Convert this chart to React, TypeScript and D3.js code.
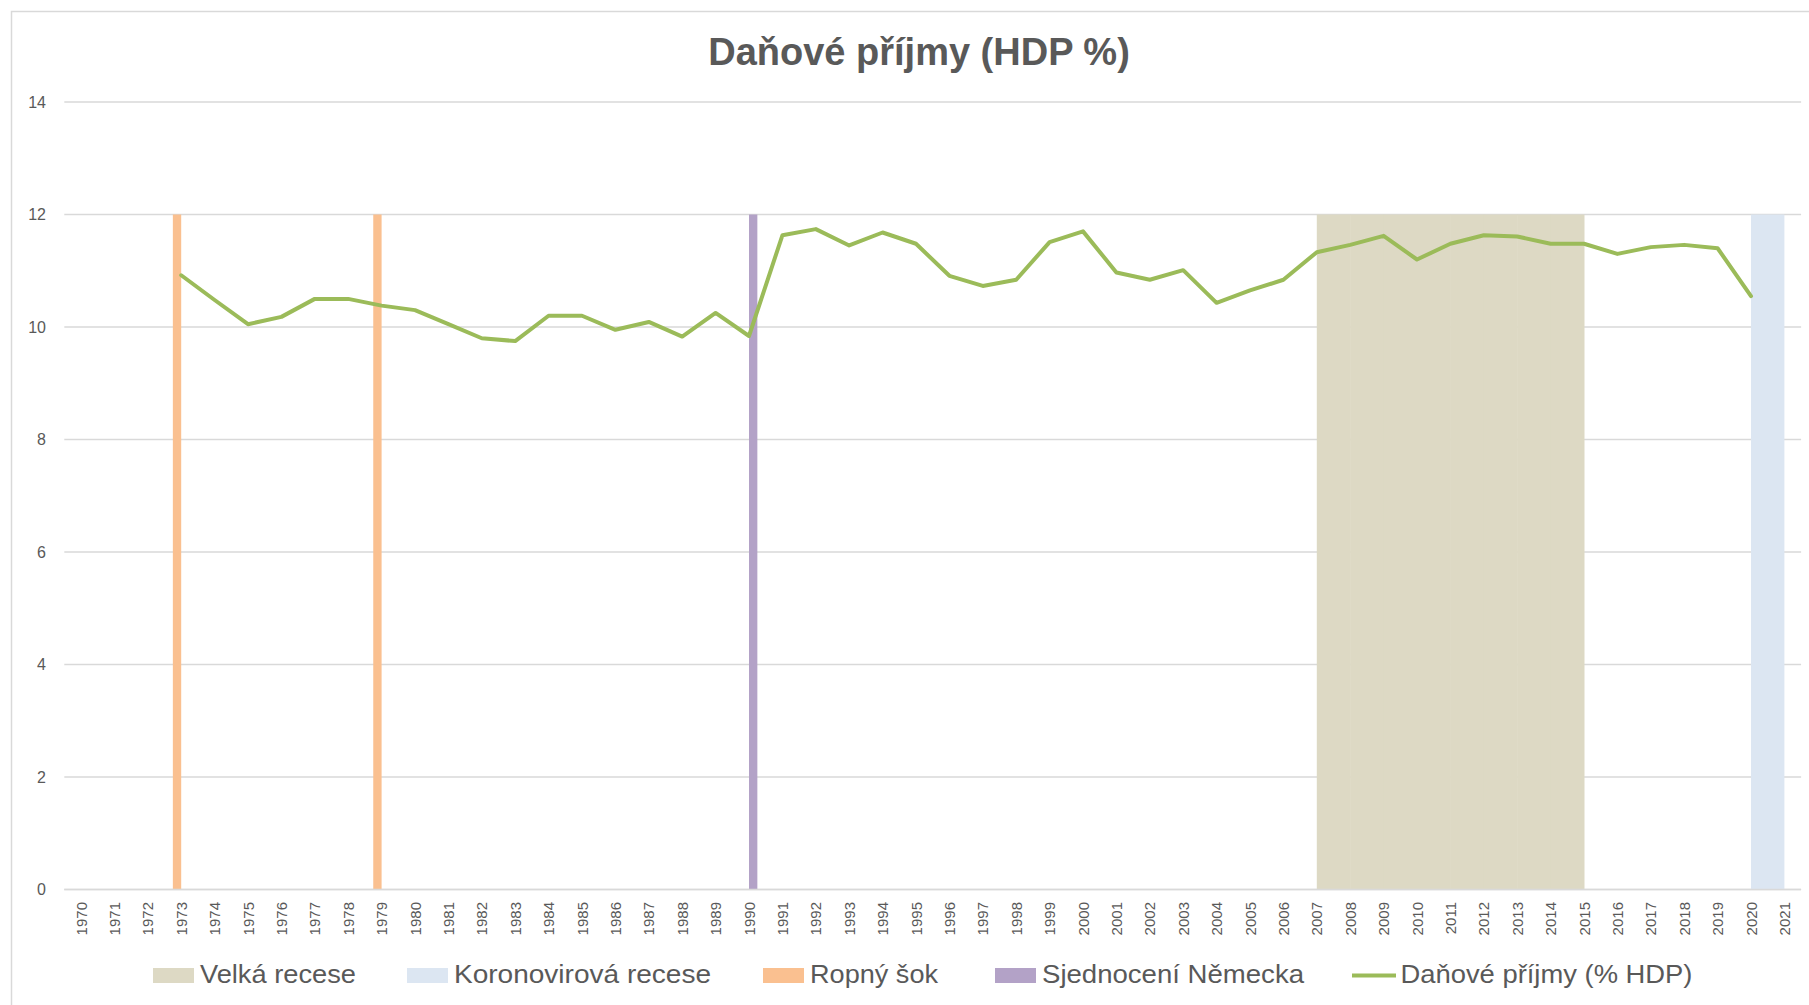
import React from "react";
import * as d3 from "d3";

const years: string[] = [
  "1970","1971","1972","1973","1974","1975","1976","1977","1978","1979",
  "1980","1981","1982","1983","1984","1985","1986","1987","1988","1989",
  "1990","1991","1992","1993","1994","1995","1996","1997","1998","1999",
  "2000","2001","2002","2003","2004","2005","2006","2007","2008","2009",
  "2010","2011","2012","2013","2014","2015","2016","2017","2018","2019",
  "2020","2021",
];

const taxRevenue: (number | null)[] = [
  null, null, null, 10.92, 10.48, 10.05, 10.18, 10.5, 10.5, 10.38,
  10.3, 10.05, 9.8, 9.75, 10.2, 10.2, 9.95, 10.09, 9.83, 10.25,
  9.84, 11.63, 11.74, 11.45, 11.68, 11.48, 10.91, 10.73, 10.84, 11.51,
  11.7, 10.97, 10.84, 11.01, 10.43, 10.65, 10.84, 11.33, 11.46, 11.62,
  11.2, 11.48, 11.63, 11.61, 11.48, 11.48, 11.3, 11.42, 11.46, 11.4,
  10.55, null,
];

const greatRecessionYears = ["2007","2008","2009","2010","2011","2012","2013","2014"];
const covidYears = ["2020"];
const oilShockYears = ["1973", "1979"];
const unificationYears = ["1990"];
const shadeValue = 12;

const yTicks = [0, 2, 4, 6, 8, 10, 12, 14];

const legendItems = [
  { label: "Velká recese", color: "#DDD9C4", kind: "rect", x: 153, w: 156 },
  { label: "Koronovirová recese", color: "#DCE6F2", kind: "rect", x: 407, w: 257 },
  { label: "Ropný šok", color: "#FAC090", kind: "rect", x: 763, w: 128 },
  { label: "Sjednocení Německa", color: "#B3A2C7", kind: "rect", x: 995, w: 262 },
  { label: "Daňové příjmy (% HDP)", color: "#9BBB59", kind: "line", x: 1352, w: 292 },
];

const TEXT = "#595959";
const GRID = "#D9D9D9";
const FONT = "'Liberation Sans', Arial, sans-serif";

export default function App() {
  const W = 1809;
  const H = 1005;
  const x = d3.scaleBand<string>().domain(years).range([64.3, 1801.1]).padding(0);
  const bw = x.bandwidth();
  const cx = (yr: string) => (x(yr) as number) + bw / 2;
  const y = d3.scaleLinear().domain([0, 14]).range([889.5, 102]);

  const pts = years.map((yr, i) => ({ yr, v: taxRevenue[i] }));
  const line = d3
    .line<{ yr: string; v: number | null }>()
    .defined((d) => d.v !== null)
    .x((d) => cx(d.yr))
    .y((d) => y(d.v as number));

  return (
    <div style={{ position: "fixed", left: 0, top: 0 }}>
      <svg width={W} height={H} style={{ display: "block", background: "#fff" }}>
        <rect x={11.5} y={11.5} width={2000} height={1200} fill="#fff" stroke={GRID} strokeWidth={1.5} />
        <text
          x={919}
          y={65}
          textAnchor="middle"
          fontFamily={FONT}
          fontWeight="bold"
          fontSize={38}
          fill={TEXT}
        >
          Daňové příjmy (HDP %)
        </text>

        {yTicks.map((t) => (
          <g key={t}>
            <line x1={64.3} x2={1801.1} y1={y(t)} y2={y(t)} stroke={GRID} strokeWidth={1.5} />
            <text
              x={46}
              y={y(t)}
              dy="0.35em"
              textAnchor="end"
              fontFamily={FONT}
              fontSize={16}
              fill={TEXT}
            >
              {t}
            </text>
          </g>
        ))}

        {greatRecessionYears.map((yr) => (
          <rect key={"g" + yr} x={cx(yr)} width={bw + 0.5} y={y(shadeValue)} height={y(0) - y(shadeValue)} fill="#DDD9C4" />
        ))}
        {covidYears.map((yr) => (
          <rect key={"c" + yr} x={cx(yr)} width={bw} y={y(shadeValue)} height={y(0) - y(shadeValue)} fill="#DCE6F2" />
        ))}
        {oilShockYears.map((yr) => (
          <rect key={"o" + yr} x={cx(yr) - bw / 4} width={bw / 4} y={y(shadeValue)} height={y(0) - y(shadeValue)} fill="#FAC090" />
        ))}
        {unificationYears.map((yr) => (
          <rect key={"u" + yr} x={cx(yr)} width={bw / 4} y={y(shadeValue)} height={y(0) - y(shadeValue)} fill="#B3A2C7" />
        ))}

        <line x1={64.3} x2={1801.1} y1={y(0)} y2={y(0)} stroke={GRID} strokeWidth={1.5} />

        <path d={line(pts) || ""} fill="none" stroke="#9BBB59" strokeWidth={4} strokeLinejoin="round" strokeLinecap="round" />

        {years.map((yr) => (
          <text
            key={"xl" + yr}
            transform={`translate(${cx(yr) + 5.5},${902}) rotate(-90)`}
            textAnchor="end"
            fontFamily={FONT}
            fontSize={15}
            fill={TEXT}
          >
            {yr}
          </text>
        ))}

        {legendItems.map((it) => (
          <g key={it.label}>
            {it.kind === "rect" ? (
              <rect x={it.x} y={968} width={41} height={15} fill={it.color} />
            ) : (
              <line x1={it.x} x2={it.x + 44} y1={975.5} y2={975.5} stroke={it.color} strokeWidth={4} />
            )}
            <text
              x={it.x + (it.kind === "rect" ? 47 : 48.5)}
              y={983}
              fontFamily={FONT}
              fontSize={26}
              textLength={it.w}
              lengthAdjust="spacingAndGlyphs"
              fill={TEXT}
            >
              {it.label}
            </text>
          </g>
        ))}
      </svg>
    </div>
  );
}
